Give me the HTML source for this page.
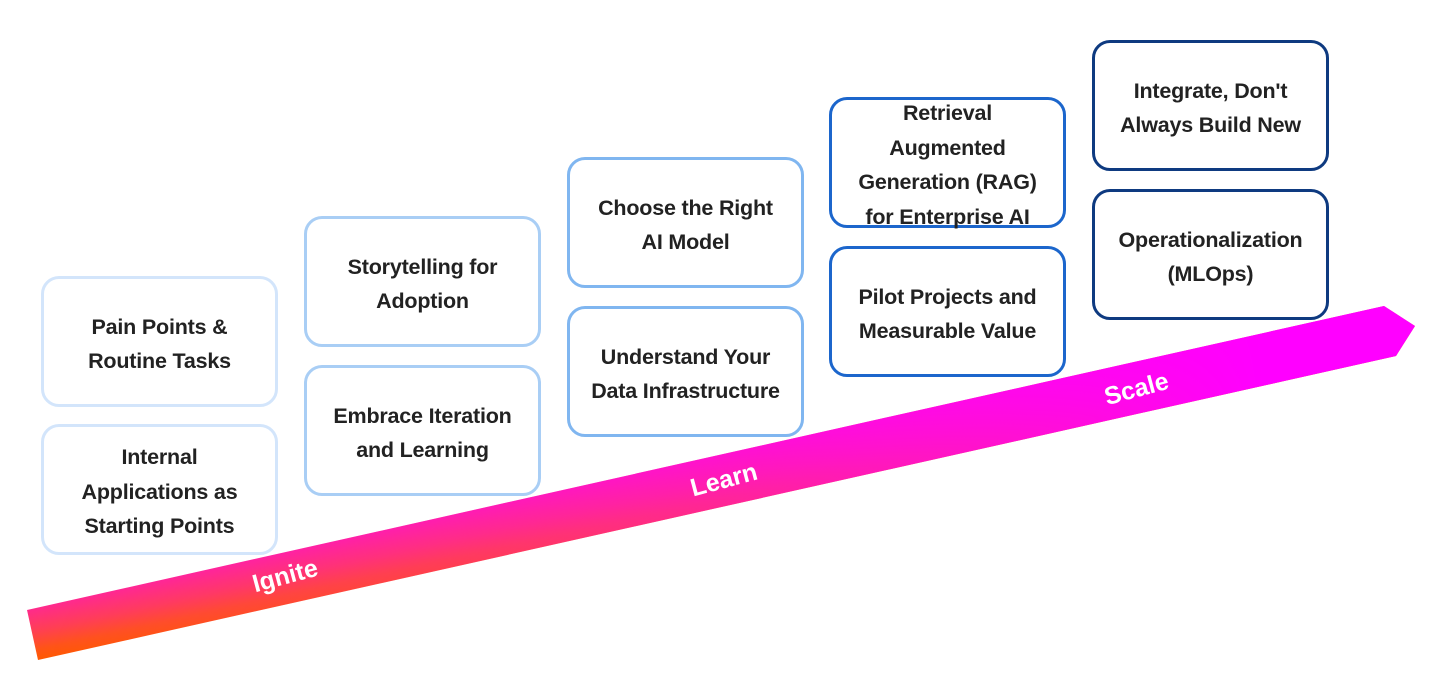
<!DOCTYPE html>
<html><head><meta charset="utf-8"><style>
html,body{margin:0;padding:0;background:#fff;}
body{width:1456px;height:682px;position:relative;overflow:hidden;font-family:"Liberation Sans",sans-serif;}
.b{position:absolute;box-sizing:border-box;width:237px;height:131px;border:3px solid;border-radius:18px;display:flex;align-items:center;justify-content:center;text-align:center;font-weight:bold;font-size:21.5px;line-height:34.5px;color:#222;background:#fff;letter-spacing:-0.2px;padding-top:5px;}
.c1{border-color:#d3e5fb}.c2{border-color:#a9cef5}.c3{border-color:#80b6f0}.c4{border-color:#1c66cc}.c5{border-color:#0e3a80}
svg{position:absolute;left:0;top:0}
.l{position:absolute;color:#fff;font-weight:bold;font-size:25px;transform:rotate(-15deg);transform-origin:center;}
</style></head><body>
<svg width="1456" height="682">
<defs>
<linearGradient id="g" gradientUnits="userSpaceOnUse" x1="27" y1="610" x2="38" y2="660">
<stop offset="0" stop-color="#ff2a8c"/><stop offset="0.45" stop-color="#ff4050"/><stop offset="0.8" stop-color="#ff5514"/><stop offset="1" stop-color="#ff5a00"/></linearGradient>
<linearGradient id="h" gradientUnits="userSpaceOnUse" x1="30" y1="0" x2="1400" y2="0">
<stop offset="0" stop-color="#ff00ff" stop-opacity="0"/><stop offset="0.3" stop-color="#ff00ff" stop-opacity="0.3"/><stop offset="0.6" stop-color="#ff00ff" stop-opacity="0.7"/><stop offset="0.9" stop-color="#ff00ff" stop-opacity="1"/></linearGradient>
</defs>
<polygon points="27,610 1384,306 1415,326 1396,356 38,660" fill="url(#g)"/>
<polygon points="27,610 1384,306 1415,326 1396,356 38,660" fill="url(#h)"/>
</svg>
<div class="b c1" style="left:41px;top:276px">Pain Points &amp;<br>Routine Tasks</div>
<div class="b c1" style="left:41px;top:424px">Internal<br>Applications as<br>Starting Points</div>
<div class="b c2" style="left:304px;top:216px">Storytelling for<br>Adoption</div>
<div class="b c2" style="left:304px;top:365px">Embrace Iteration<br>and Learning</div>
<div class="b c3" style="left:567px;top:157px">Choose the Right<br>AI Model</div>
<div class="b c3" style="left:567px;top:306px">Understand Your<br>Data Infrastructure</div>
<div class="b c4" style="left:829px;top:97px">Retrieval<br>Augmented<br>Generation (RAG)<br>for Enterprise AI</div>
<div class="b c4" style="left:829px;top:246px">Pilot Projects and<br>Measurable Value</div>
<div class="b c5" style="left:1092px;top:40px">Integrate, Don't<br>Always Build New</div>
<div class="b c5" style="left:1092px;top:189px">Operationalization<br>(MLOps)</div>
<div class="l" style="left:252px;top:562px">Ignite</div>
<div class="l" style="left:690px;top:466px">Learn</div>
<div class="l" style="left:1104px;top:375px">Scale</div>
</body></html>
